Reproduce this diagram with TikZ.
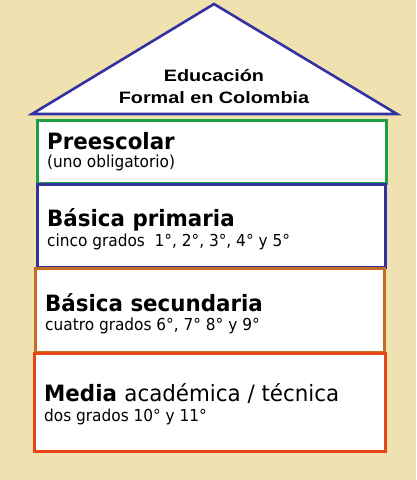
\documentclass[tikz,border=0pt]{standalone}
\usepackage{fontspec}
\setmainfont[FakeStretch=0.93]{DejaVu Sans}
\newfontfamily\headfont[FakeStretch=0.95]{DejaVu Sans}
\newfontfamily\titlefont[FakeStretch=1.2]{Liberation Sans}
\definecolor{bgc}{RGB}{240,226,176}
\definecolor{roofc}{RGB}{50,50,160}
\definecolor{greenc}{RGB}{30,160,70}
\definecolor{bluec}{RGB}{50,50,160}
\definecolor{brownc}{RGB}{195,110,35}
\definecolor{redc}{RGB}{232,70,20}
\begin{document}
\begin{tikzpicture}[x=1pt,y=-1pt,
  level/.style={draw=#1, line width=3pt, fill=white},
  head/.style={anchor=base west, inner sep=0pt, font=\headfont\fontsize{22.5}{24}\selectfont\bfseries},
  sub/.style={anchor=base west, inner sep=0pt, font=\fontsize{16.5}{18}\selectfont},
  ttl/.style={anchor=base, inner sep=0pt, font=\titlefont\fontsize{16.5}{19}\selectfont\bfseries}]
\fill[bgc] (0,0) rectangle (416,480);
\useasboundingbox (0,0) rectangle (416,480);
\draw[roofc, line width=2.6pt, fill=white, line join=miter] (214,4) coordinate (apex) -- (32,114) coordinate (bl) -- (397,114) coordinate (br) -- cycle;
\node[ttl] (t1) at (214,81) {Educación};
\node[ttl] (t2) at (214,103) {Formal en Colombia};
\draw[level=greenc] (37,120) rectangle (386,183);
\node[head] (pre) at (47,149) {Preescolar};
\node[sub] (pres) at (47,167) {(uno obligatorio)};
\draw[level=bluec] (37,184) rectangle (385,267);
\node[head] (bp) at (47,226) {Básica primaria};
\node[sub] (bps) at (47,246) {cinco grados\ \ 1°, 2°, 3°, 4° y 5°};
\draw[level=brownc] (35,268) rectangle (384,352);
\node[head] (bs) at (45,311) {Básica secundaria};
\node[sub] (bss) at (45,330) {cuatro grados 6°, 7° 8° y 9°};
\draw[level=redc] (34,353) rectangle (385,451);
\node[head] (me) at (44,401) {Media \mdseries académica / técnica};
\node[sub] (mes) at (44,421) {dos grados 10° y 11°};
\end{tikzpicture}
\end{document}
